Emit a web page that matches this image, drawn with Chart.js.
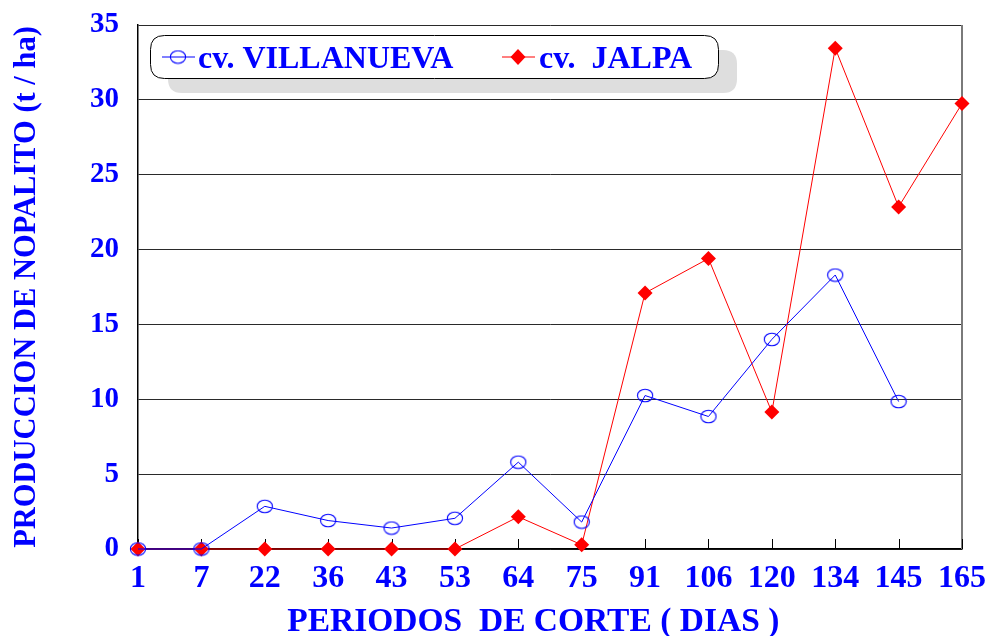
<!DOCTYPE html>
<html>
<head>
<meta charset="utf-8">
<script src="https://cdn.jsdelivr.net/npm/chart.js@4.4.1/dist/chart.umd.min.js"></script>
<style>
  html, body { margin: 0; padding: 0; background: #ffffff; }
  #wrap { width: 991px; height: 636px; position: relative; }
</style>
</head>
<body>
<div id="wrap"><canvas id="c" width="991" height="636"></canvas></div>
<script>
// ---- data ----
const periods = ['1', '7', '22', '36', '43', '53', '64', '75', '91', '106', '120', '134', '145', '165'];
const villanueva = [0, 0, 2.85, 1.9, 1.4, 2.05, 5.8, 1.8, 10.25, 8.85, 14.0, 18.3, 9.85, null];
const jalpa = [0, 0, 0, 0, 0, 0, 2.15, 0.28, 17.1, 19.4, 9.15, 33.45, 22.85, 29.75];
const yTicks = [0, 5, 10, 15, 20, 25, 30, 35];
const seriesNames = ['cv. VILLANUEVA', 'cv.  JALPA'];
const yTitle = 'PRODUCCION DE NOPALITO (t / ha)';
const xTitle = 'PERIODOS  DE CORTE ( DIAS )';

const FONT = '"Liberation Serif", "Times New Roman", serif';
const BLUE = '#0000ff';
const RED = '#ff0000';

function makeEllipse() {
  const c = document.createElement('canvas');
  c.width = 18; c.height = 15;
  const x = c.getContext('2d');
  x.strokeStyle = BLUE;
  x.lineWidth = 1.1;
  x.beginPath();
  x.ellipse(9, 7.5, 7.6, 6.3, 0, 0, Math.PI * 2);
  x.stroke();
  return c;
}
const ellipseImg = makeEllipse();

const decorPlugin = {
  id: 'decor',
  beforeDatasetsDraw(chart) {
    const { ctx, chartArea: a, scales } = chart;
    ctx.save();
    ctx.strokeStyle = '#7a7a7a';
    ctx.lineWidth = 2;
    ctx.beginPath();
    ctx.moveTo(a.right, a.top);
    ctx.lineTo(a.right, a.bottom);
    ctx.stroke();
    ctx.strokeStyle = '#000';
    ctx.lineWidth = 1;
    const xs = scales.x;
    for (let i = 0; i < periods.length; i++) {
      const px = Math.round(xs.getPixelForTick(i)) + 0.5;
      ctx.beginPath();
      ctx.moveTo(px, a.bottom);
      ctx.lineTo(px, a.bottom - 10);
      ctx.stroke();
    }
    ctx.restore();
  },
  afterDraw(chart) {
    const { ctx } = chart;
    ctx.save();
    function rr(x, y, w, h, r) {
      ctx.beginPath();
      ctx.moveTo(x + r, y);
      ctx.lineTo(x + w - r, y);
      ctx.quadraticCurveTo(x + w, y, x + w, y + r);
      ctx.lineTo(x + w, y + h - r);
      ctx.quadraticCurveTo(x + w, y + h, x + w - r, y + h);
      ctx.lineTo(x + r, y + h);
      ctx.quadraticCurveTo(x, y + h, x, y + h - r);
      ctx.lineTo(x, y + r);
      ctx.quadraticCurveTo(x, y, x + r, y);
      ctx.closePath();
    }
    ctx.fillStyle = '#dedede';
    rr(168, 50, 569, 43, 14);
    ctx.fill();
    ctx.fillStyle = '#ffffff';
    ctx.strokeStyle = '#000000';
    ctx.lineWidth = 1;
    rr(150.5, 35.5, 568, 43, 14);
    ctx.fill();
    ctx.stroke();
    const my = 57;
    ctx.strokeStyle = BLUE;
    ctx.lineWidth = 1;
    ctx.beginPath();
    ctx.moveTo(162, my); ctx.lineTo(195, my); ctx.stroke();
    ctx.drawImage(ellipseImg, 178 - 9, my - 7.5);
    ctx.strokeStyle = RED;
    ctx.beginPath();
    ctx.moveTo(502, my); ctx.lineTo(535, my); ctx.stroke();
    ctx.fillStyle = RED;
    ctx.beginPath();
    ctx.moveTo(518, my - 8); ctx.lineTo(525.5, my); ctx.lineTo(518, my + 8); ctx.lineTo(510.5, my);
    ctx.closePath(); ctx.fill();
    ctx.fillStyle = BLUE;
    ctx.font = 'bold 32px ' + FONT;
    ctx.textBaseline = 'alphabetic';
    ctx.textAlign = 'left';
    ctx.fillText(seriesNames[0], 198, 68);
    ctx.fillText(seriesNames[1], 539, 68);
    ctx.restore();
  }
};

new Chart(document.getElementById('c'), {
  type: 'line',
  data: {
    labels: periods,
    datasets: [
      {
        label: seriesNames[0],
        data: villanueva,
        borderColor: BLUE,
        borderWidth: 1,
        pointStyle: ellipseImg,
        pointRadius: 8,
        pointHoverRadius: 8,
        fill: false,
        tension: 0,
        spanGaps: false,
        clip: false
      },
      {
        label: seriesNames[1],
        data: jalpa,
        borderColor: RED,
        backgroundColor: RED,
        borderWidth: 1,
        pointStyle: 'rectRot',
        pointRadius: 7.5,
        pointHoverRadius: 7.5,
        pointBackgroundColor: RED,
        pointBorderColor: RED,
        pointBorderWidth: 0,
        fill: false,
        tension: 0,
        clip: false
      }
    ]
  },
  options: {
    responsive: false,
    animation: false,
    devicePixelRatio: 1,
    events: [],
    layout: { autoPadding: false, padding: { top: 25, right: 29, bottom: 0, left: 0 } },
    plugins: {
      legend: { display: false },
      tooltip: { enabled: false }
    },
    scales: {
      x: {
        type: 'category',
        offset: false,
        grid: { display: false, drawTicks: true, tickLength: 11, tickColor: 'rgba(0,0,0,0)', offset: false },
        border: { display: true, color: '#000', width: 1.5 },
        ticks: {
          color: BLUE,
          font: { family: FONT, size: 32, weight: 'bold' },
          padding: 0,
          autoSkip: false,
          maxRotation: 0,
          minRotation: 0
        },
        title: {
          display: true,
          text: xTitle + '    ',
          color: BLUE,
          font: { family: FONT, size: 33.5, weight: 'bold', lineHeight: 0.8 },
          padding: { top: 0, bottom: 0 }
        },
        afterFit(scale) { scale.height = 87; }
      },
      y: {
        min: 0,
        max: 35,
        afterBuildTicks(scale) { scale.ticks = yTicks.map(v => ({ value: v })); },
        grid: { color: '#2a2a2a', lineWidth: 1, drawTicks: true, tickLength: 19, tickColor: 'rgba(0,0,0,0)' },
        border: { display: true, color: '#000', width: 1.5 },
        ticks: {
          color: BLUE,
          font: { family: FONT, size: 29, weight: 'bold' },
          padding: 0
        },
        title: {
          display: true,
          text: yTitle,
          color: BLUE,
          font: { family: FONT, size: 30.5, weight: 'bold', lineHeight: 1 },
          padding: { top: 12, bottom: 0 }
        },
        afterFit(scale) { scale.width = 138; }
      }
    }
  },
  plugins: [decorPlugin]
});
</script>
</body>
</html>
